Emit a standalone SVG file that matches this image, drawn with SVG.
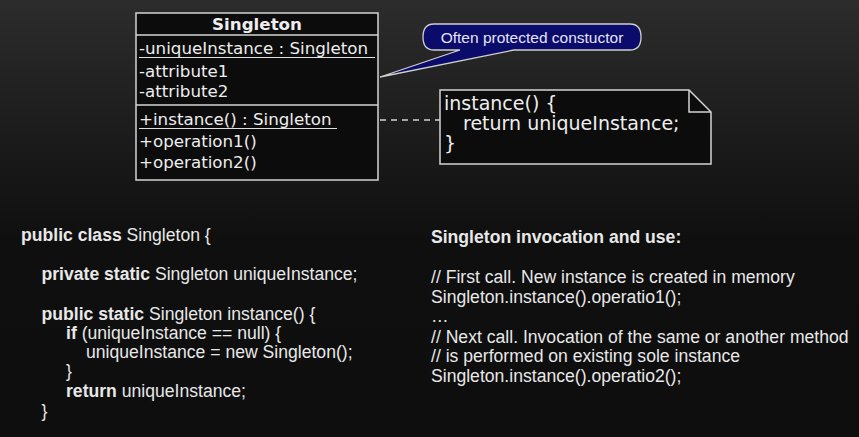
<svg xmlns="http://www.w3.org/2000/svg" width="859" height="437" viewBox="0 0 859 437">
  <defs>
    <linearGradient id="bg" x1="0" y1="0" x2="0" y2="1">
      <stop offset="0" stop-color="#2c2c2c"/>
      <stop offset="0.55" stop-color="#0f0f0f"/>
      <stop offset="1" stop-color="#0e0e0e"/>
    </linearGradient>
  </defs>
  <style>
    .box { fill: #0c0c0c; stroke: #d4d4d4; stroke-width: 1.5; }
    .uml { font-family: "DejaVu Sans", sans-serif; font-size: 16.7px; fill: #eeeeee; }
    .note { font-family: "DejaVu Sans", sans-serif; font-size: 19px; fill: #eeeeee; }
    .ul { stroke: #e0e0e0; stroke-width: 1.2; }
    .code { font-family: "Liberation Sans", Arial, sans-serif; font-size: 17.6px; fill: #e8e8e8; }
    .b { font-weight: bold; }
    .conn { stroke: #d4d4d4; stroke-width: 1.5; fill: none; }
  </style>
  <rect x="0" y="0" width="859" height="437" fill="url(#bg)"/>

  <g id="connectors">
    <line class="conn" x1="380" y1="120" x2="440" y2="120" stroke-dasharray="6,5"/>
  </g>

  <g id="singleton-class">
    <rect class="box" x="136" y="13" width="242" height="167"/>
    <line class="conn" x1="136" y1="35" x2="378" y2="35"/>
    <line class="conn" x1="136" y1="105" x2="378" y2="105"/>
    <text class="uml b" x="257" y="30" text-anchor="middle">Singleton</text>
    <text class="uml" x="139" y="54">-uniqueInstance : Singleton</text>
    <line class="ul" x1="139" y1="57.5" x2="375" y2="57.5"/>
    <text class="uml" x="139" y="76.5">-attribute1</text>
    <text class="uml" x="139" y="97">-attribute2</text>
    <text class="uml" x="139" y="125">+instance() : Singleton</text>
    <line class="ul" x1="139" y1="128.5" x2="337" y2="128.5"/>
    <text class="uml" x="139" y="146.5">+operation1()</text>
    <text class="uml" x="139" y="167.5">+operation2()</text>
  </g>

  <g id="callout">
    <path d="M434,24 H630 Q641,24 641,37 Q641,50 630,50 H514 L380,77 L460,50 H434 Q423,50 423,37 Q423,24 434,24 Z" fill="#0b0b6c" stroke="#cfcfcf" stroke-width="1.3"/>
    <text x="532" y="43" text-anchor="middle" font-family="Liberation Sans, Arial, sans-serif" font-size="15.5" fill="#e4e4f4">Often protected constuctor</text>
  </g>

  <g id="note">
    <path class="box" d="M440,90 H689 L711,112 V164 H440 Z"/>
    <path class="conn" d="M689,90 V112 H711"/>
    <text class="note" x="444" y="110">instance() {</text>
    <text class="note" x="463" y="130">return uniqueInstance;</text>
    <text class="note" x="444" y="150">}</text>
  </g>

  <g id="code-left">
    <text class="code" x="21" y="241"><tspan class="b">public class</tspan> Singleton {</text>
    <text class="code" x="41.5" y="280"><tspan class="b">private static</tspan> Singleton uniqueInstance;</text>
    <text class="code" x="41.5" y="320"><tspan class="b">public static</tspan> Singleton instance() {</text>
    <text class="code" x="66" y="338.5"><tspan class="b">if</tspan> (uniqueInstance == null) {</text>
    <text class="code" x="86" y="358">uniqueInstance = new Singleton();</text>
    <text class="code" x="66" y="377">}</text>
    <text class="code" x="66" y="397"><tspan class="b">return</tspan> uniqueInstance;</text>
    <text class="code" x="41.5" y="417">}</text>
  </g>

  <g id="code-right">
    <text class="code b" x="431" y="243">Singleton invocation and use:</text>
    <text class="code" x="431" y="283">// First call. New instance is created in memory</text>
    <text class="code" x="431" y="303">Singleton.instance().operatio1();</text>
    <text class="code" x="431" y="322">…</text>
    <text class="code" x="431" y="342.5">// Next call. Invocation of the same or another method</text>
    <text class="code" x="431" y="362">// is performed on existing sole instance</text>
    <text class="code" x="431" y="381.5">Singleton.instance().operatio2();</text>
  </g>
</svg>
